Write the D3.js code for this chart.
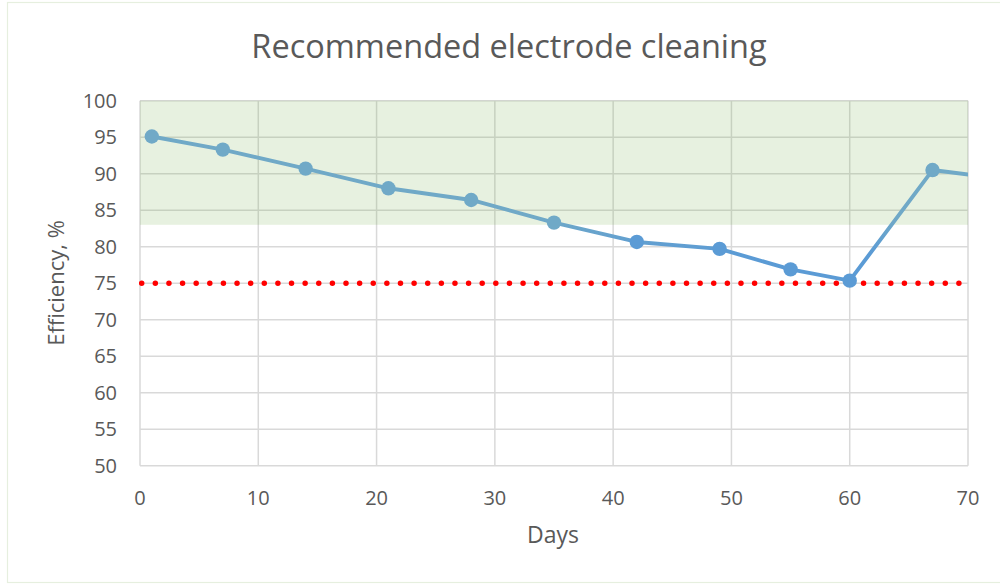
<!DOCTYPE html>
<html>
<head>
<meta charset="utf-8">
<script src="https://cdn.jsdelivr.net/npm/d3@7"></script>
<style>
  body { margin: 0; background: #fff; }
  text { font-family: "Open Sans", sans-serif; fill: #595959; }
</style>
</head>
<body>
<svg id="chart" width="1000" height="584"></svg>
<script>
// data
var days       = [1, 7, 14, 21, 28, 35, 42, 49, 55, 60, 67, 74];
var efficiency = [95.1, 93.3, 90.7, 88.0, 86.4, 83.3, 80.65, 79.7, 76.9, 75.35, 90.5, 89.1];
var xTicks     = [0, 10, 20, 30, 40, 50, 60, 70];
var yTicks     = [50, 55, 60, 65, 70, 75, 80, 85, 90, 95, 100];
var goodZone   = [83, 100];   // shaded band
var limit      = [75];        // red dotted threshold

var svg = d3.select('#chart');

var margin = { left: 140, right: 32, top: 100.7, bottom: 118.3 };
var width  = 1000 - margin.left - margin.right;
var height = 584 - margin.top - margin.bottom;

var x = d3.scaleLinear().domain([0, 70]).range([margin.left, margin.left + width]);
var y = d3.scaleLinear().domain([50, 100]).range([margin.top + height, margin.top]);

var teal = '#70a9c7';
var blue = '#5b9bd5';

// outer chart border
svg.append('rect')
    .attr('x', 7.5).attr('y', 2.5)
    .attr('width', 1000).attr('height', 580)
    .attr('fill', 'none')
    .attr('stroke', '#e6efdf')
    .attr('stroke-width', 1.2);

// title
svg.append('text')
    .attr('x', 509).attr('y', 58)
    .attr('text-anchor', 'middle')
    .style('font-size', '32.5px')
    .text('Recommended electrode cleaning');

// gridlines
var grid = svg.append('g').attr('stroke', '#d9d9d9').attr('stroke-width', 1.5);

grid.selectAll('.hgrid')
    .data(yTicks)
    .enter().append('line')
    .attr('class', 'hgrid')
    .attr('x1', x(0)).attr('x2', x(70))
    .attr('y1', function(d) { return y(d); })
    .attr('y2', function(d) { return y(d); });

grid.selectAll('.vgrid')
    .data(xTicks)
    .enter().append('line')
    .attr('class', 'vgrid')
    .attr('y1', y(50)).attr('y2', y(100))
    .attr('x1', function(d) { return x(d); })
    .attr('x2', function(d) { return x(d); });

// green band (semi transparent, so grid shows through darker)
svg.append('rect')
    .attr('x', x(0))
    .attr('y', y(goodZone[1]))
    .attr('width', x(70) - x(0))
    .attr('height', y(goodZone[0]) - y(goodZone[1]))
    .attr('fill', '#70ad47')
    .attr('fill-opacity', 0.17);

// y tick labels
svg.selectAll('.ylab')
    .data(yTicks)
    .enter().append('text')
    .attr('class', 'ylab')
    .attr('x', 117)
    .attr('y', function(d) { return y(d); })
    .attr('dy', '0.36em')
    .attr('text-anchor', 'end')
    .style('font-size', '20px')
    .text(function(d) { return d; });

// x tick labels
svg.selectAll('.xlab')
    .data(xTicks)
    .enter().append('text')
    .attr('class', 'xlab')
    .attr('x', function(d) { return x(d); })
    .attr('y', 505)
    .attr('text-anchor', 'middle')
    .style('font-size', '20px')
    .text(function(d) { return d; });

// axis titles
svg.append('text')
    .attr('x', 553).attr('y', 543)
    .attr('text-anchor', 'middle')
    .style('font-size', '23px')
    .text('Days');

svg.append('text')
    .attr('transform', 'translate(64,283) rotate(-90)')
    .attr('text-anchor', 'middle')
    .style('font-size', '22px')
    .text('Efficiency, %');

// red dotted limit
svg.selectAll('.limit')
    .data(limit)
    .enter().append('line')
    .attr('class', 'limit')
    .attr('x1', x(0) + 1.7).attr('x2', x(70))
    .attr('y1', function(d) { return y(d); })
    .attr('y2', function(d) { return y(d); })
    .attr('stroke', '#ff0000')
    .attr('stroke-width', 5.5)
    .attr('stroke-linecap', 'round')
    .attr('stroke-dasharray', '0 13.62');

// clip to plot area
svg.append('clipPath').attr('id', 'plotclip')
    .append('rect')
    .attr('x', x(0) - 10).attr('y', y(100) - 10)
    .attr('width', x(70) - x(0) + 10)
    .attr('height', y(50) - y(100) + 20);

// vertical gradient for the line: teal inside the band, blue below
var grad = svg.append('defs').append('linearGradient')
    .attr('id', 'linegrad')
    .attr('gradientUnits', 'userSpaceOnUse')
    .attr('x1', 0).attr('x2', 0)
    .attr('y1', y(84)).attr('y2', y(79));
grad.append('stop').attr('offset', '0%').attr('stop-color', teal);
grad.append('stop').attr('offset', '100%').attr('stop-color', blue);

var points = days.map(function(d, i) { return { day: d, eff: efficiency[i] }; });

var line = d3.line()
    .x(function(d) { return x(d.day); })
    .y(function(d) { return y(d.eff); });

var series = svg.append('g').attr('clip-path', 'url(#plotclip)');

series.append('path')
    .datum(points)
    .attr('d', line)
    .attr('fill', 'none')
    .attr('stroke', 'url(#linegrad)')
    .attr('stroke-width', 3.9)
    .attr('stroke-linejoin', 'round');

series.selectAll('.marker')
    .data(points.filter(function(d) { return d.day <= 70; }))
    .enter().append('circle')
    .attr('class', 'marker')
    .attr('cx', function(d) { return x(d.day); })
    .attr('cy', function(d) { return y(d.eff); })
    .attr('r', 7.2)
    .attr('fill', function(d) { return d.eff >= goodZone[0] ? teal : blue; });
</script>
</body>
</html>
